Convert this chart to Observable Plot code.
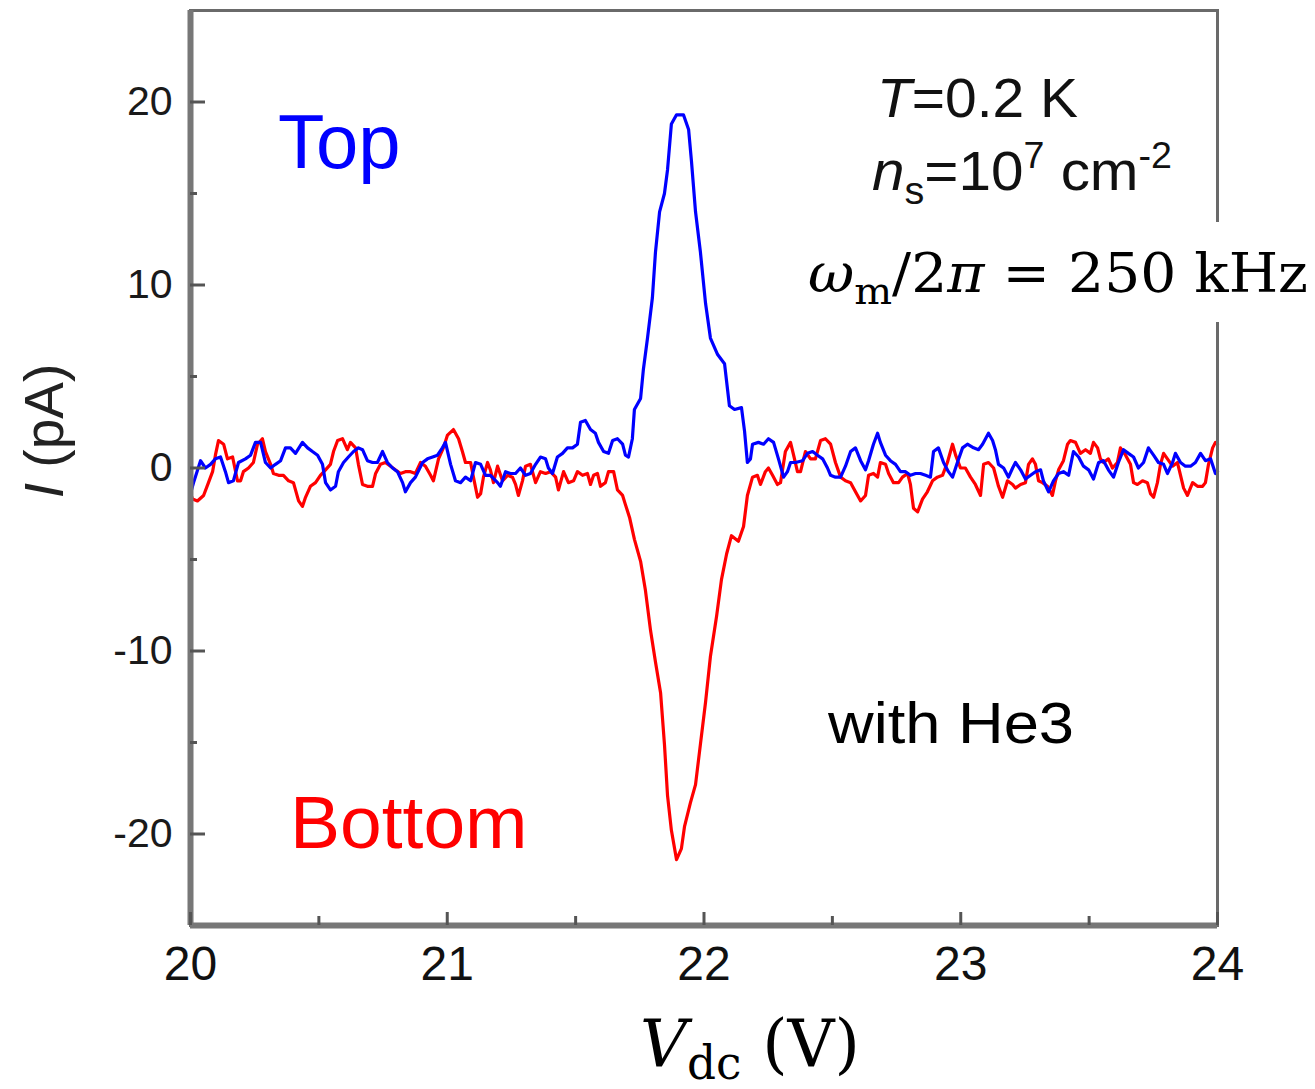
<!DOCTYPE html>
<html>
<head>
<meta charset="utf-8">
<script src="https://cdn.jsdelivr.net/npm/d3@7"></script>
<script src="https://cdn.jsdelivr.net/npm/@observablehq/plot@0.6"></script>
<style>
  html, body { margin: 0; padding: 0; background: #fff; }
  #chart { width: 1315px; height: 1089px; }
</style>
</head>
<body>
<div id="chart"></div>
<script>
// Top (blue) trace: Vdc (V) and I (pA)
const vTop = [20.000,20.012,20.039,20.058,20.078,20.097,20.117,20.136,20.148,20.167,20.187,20.214,20.234,20.253,20.273,20.292,20.312,20.331,20.351,20.370,20.389,20.409,20.436,20.456,20.475,20.495,20.514,20.526,20.545,20.565,20.576,20.596,20.615,20.635,20.654,20.670,20.689,20.709,20.728,20.748,20.767,20.787,20.806,20.826,20.837,20.857,20.876,20.904,20.923,20.943,20.962,20.981,20.993,21.013,21.032,21.052,21.071,21.091,21.110,21.130,21.149,21.168,21.196,21.207,21.227,21.246,21.266,21.285,21.305,21.324,21.344,21.363,21.383,21.394,21.410,21.429,21.449,21.468,21.488,21.507,21.519,21.538,21.558,21.577,21.589,21.609,21.628,21.644,21.663,21.683,21.694,21.706,21.721,21.729,21.753,21.764,21.780,21.799,21.811,21.827,21.846,21.858,21.873,21.893,21.920,21.940,21.951,21.967,21.986,22.006,22.025,22.053,22.080,22.099,22.119,22.146,22.158,22.169,22.181,22.189,22.212,22.232,22.251,22.271,22.290,22.310,22.325,22.337,22.356,22.384,22.403,22.423,22.442,22.462,22.481,22.493,22.512,22.532,22.551,22.571,22.590,22.610,22.629,22.641,22.660,22.676,22.687,22.707,22.726,22.746,22.765,22.785,22.804,22.824,22.843,22.863,22.882,22.894,22.913,22.933,22.952,22.968,22.987,23.007,23.026,23.050,23.069,23.085,23.108,23.124,23.135,23.147,23.167,23.186,23.202,23.213,23.233,23.252,23.272,23.291,23.311,23.322,23.342,23.361,23.381,23.400,23.420,23.439,23.459,23.478,23.498,23.517,23.537,23.556,23.575,23.595,23.614,23.634,23.653,23.673,23.692,23.712,23.731,23.751,23.770,23.790,23.805,23.825,23.836,23.856,23.875,23.895,23.914,23.934,23.953,23.973,23.992,24.000];
const iTop = [-1.4,-0.8,0.4,0.0,0.2,0.5,0.6,-0.2,-0.8,-0.7,0.3,0.5,0.7,1.4,1.4,0.3,0.0,0.2,0.4,1.1,1.1,0.8,1.4,1.1,0.9,0.7,0.2,-0.8,-1.2,-1.0,-0.2,0.3,0.6,0.9,1.1,1.0,0.4,0.3,0.3,0.9,0.3,0.0,-0.2,-0.8,-1.3,-0.8,-0.5,0.3,0.5,0.6,0.7,1.1,1.4,0.2,-0.7,-0.8,-0.5,-0.7,0.3,0.2,-0.4,-0.4,-0.8,-1.0,-0.2,-0.3,-0.3,0.0,-0.4,-0.3,0.2,0.6,0.5,0.0,-0.3,0.6,0.8,1.1,1.1,1.3,2.5,2.6,2.1,1.9,1.4,0.9,0.8,1.5,1.6,1.3,0.7,0.6,1.6,3.2,3.8,5.4,7.1,9.3,11.8,14.0,15.0,16.3,18.8,19.3,19.3,18.5,16.8,14.0,11.8,9.0,7.1,6.2,5.7,3.4,3.2,3.3,2.0,0.3,0.5,1.3,1.4,1.3,1.6,1.4,0.5,-0.5,-0.2,0.3,0.3,0.4,0.8,0.9,0.7,0.5,0.0,-0.4,-0.5,-0.5,0.1,0.9,1.1,0.4,-0.1,0.4,1.3,1.9,1.4,0.7,0.4,0.2,-0.2,-0.2,-0.4,-0.3,-0.3,-0.4,-0.5,0.9,1.1,0.3,-0.2,-0.5,0.3,1.1,1.3,1.1,1.0,1.3,1.9,1.5,1.0,0.2,0.0,-0.5,0.0,0.3,-0.1,-0.6,-0.4,-0.2,-0.1,-0.7,-1.3,-0.7,-0.3,-0.2,-0.4,0.9,0.6,0.1,-0.1,-0.6,0.3,0.4,-0.1,-0.5,0.3,1.0,0.8,0.6,0.0,0.3,1.1,0.7,0.3,0.2,-0.3,0.3,0.8,0.3,0.1,0.1,0.3,0.8,0.4,0.5,-0.3,-0.2];

// Bottom (red) trace
const vBottom = [20.000,20.008,20.027,20.051,20.070,20.086,20.097,20.109,20.129,20.144,20.164,20.183,20.195,20.206,20.226,20.245,20.261,20.280,20.292,20.312,20.323,20.343,20.362,20.382,20.401,20.421,20.436,20.448,20.467,20.487,20.506,20.526,20.545,20.557,20.573,20.592,20.611,20.623,20.643,20.654,20.670,20.689,20.709,20.721,20.740,20.759,20.779,20.798,20.818,20.837,20.857,20.876,20.896,20.915,20.935,20.946,20.966,20.985,21.001,21.024,21.044,21.059,21.071,21.091,21.102,21.118,21.130,21.141,21.157,21.168,21.180,21.196,21.215,21.235,21.254,21.266,21.277,21.293,21.305,21.324,21.344,21.363,21.383,21.402,21.422,21.433,21.453,21.472,21.492,21.507,21.527,21.546,21.558,21.570,21.585,21.597,21.616,21.628,21.648,21.663,21.683,21.694,21.710,21.729,21.753,21.772,21.792,21.811,21.831,21.846,21.858,21.873,21.893,21.912,21.924,21.947,21.967,21.986,22.006,22.025,22.049,22.068,22.088,22.107,22.134,22.154,22.169,22.189,22.208,22.220,22.239,22.251,22.267,22.286,22.298,22.317,22.337,22.349,22.364,22.376,22.395,22.415,22.434,22.454,22.473,22.493,22.512,22.532,22.551,22.571,22.590,22.610,22.629,22.641,22.660,22.676,22.687,22.707,22.719,22.738,22.758,22.773,22.793,22.804,22.816,22.832,22.851,22.870,22.890,22.909,22.929,22.948,22.968,22.980,22.999,23.018,23.038,23.057,23.077,23.089,23.108,23.128,23.147,23.163,23.182,23.202,23.213,23.233,23.252,23.264,23.279,23.291,23.303,23.318,23.338,23.357,23.369,23.381,23.400,23.416,23.427,23.447,23.466,23.486,23.505,23.517,23.533,23.544,23.556,23.575,23.591,23.610,23.622,23.642,23.661,23.673,23.688,23.708,23.727,23.739,23.751,23.766,23.778,23.790,23.805,23.825,23.844,23.856,23.868,23.883,23.903,23.922,23.942,23.953,23.965,23.981,23.992,24.000];
const iBottom = [-1.4,-1.7,-1.8,-1.5,-0.8,-0.2,0.7,1.5,1.3,0.5,0.6,-0.7,-0.7,-0.2,0.0,0.3,1.3,1.6,0.9,0.2,-0.3,-0.4,-0.4,-0.7,-0.8,-1.8,-2.1,-1.6,-1.0,-0.8,-0.4,-0.1,0.2,0.9,1.5,1.6,1.0,1.4,1.1,0.2,-0.9,-1.0,-1.0,-0.3,0.2,0.3,0.1,-0.1,-0.3,-0.2,-0.2,-0.3,0.3,0.1,-0.4,-0.7,0.5,1.1,1.8,2.1,1.6,0.9,0.3,0.3,-0.5,-1.6,-1.4,-0.5,0.3,-0.1,-0.8,0.1,-0.7,-0.4,-0.5,-0.9,-1.5,-0.7,0.1,0.2,-0.8,-0.2,-0.3,-0.2,-0.5,-1.2,-0.2,-0.8,-0.7,-0.2,-0.4,-0.3,-0.9,-0.4,-0.3,-1.0,-0.8,-0.2,-0.2,-1.2,-1.5,-2.0,-2.7,-3.9,-5.1,-6.7,-8.9,-10.6,-12.3,-15.1,-17.9,-19.8,-21.4,-20.8,-19.6,-18.3,-17.3,-15.1,-12.8,-10.3,-8.1,-6.1,-4.7,-3.7,-4.0,-3.2,-1.5,-0.5,-0.4,-0.9,-0.2,0.0,-0.4,-0.9,-0.8,0.9,1.4,0.7,-0.2,-0.2,0.9,0.5,0.5,1.5,1.6,1.3,0.3,-0.5,-0.7,-0.8,-1.3,-1.8,-1.5,-0.4,-0.3,-0.5,0.3,0.2,-0.3,-0.8,-0.8,-0.5,-0.3,-0.9,-2.2,-2.4,-1.7,-1.3,-0.7,-0.5,-0.4,0.3,1.3,0.7,0.0,0.0,-0.5,-0.9,-1.5,0.2,0.3,0.0,-1.0,-1.6,-0.7,-0.9,-1.1,-0.9,-0.8,0.2,0.5,0.2,-0.7,-0.8,-1.0,-1.5,-0.7,-0.1,0.4,1.3,1.5,1.4,0.8,1.0,0.8,1.4,1.1,0.5,0.3,0.5,0.0,0.3,1.1,0.7,0.2,-0.8,-0.9,-0.7,-0.8,-1.4,-1.6,-0.8,0.2,0.8,0.5,0.1,0.3,-0.4,-1.1,-1.5,-0.8,-1.0,-1.0,-0.8,0.2,1.1,1.4,1.3];

// Ticks
const xMajor = [20, 21, 22, 23, 24];
const xMinor = [20.5, 21.5, 22.5, 23.5];
const yMajor = [-20, -10, 0, 10, 20];
const yMinor = [-15, -5, 5, 15];

const topData = vTop.map((v, k) => ({v, i: iTop[k]}));
const bottomData = vBottom.map((v, k) => ({v, i: iBottom[k]}));

const sans = "'Liberation Sans', Arial, Helvetica, sans-serif";
const serif = "'DejaVu Serif', 'Liberation Serif', serif";

const chart = Plot.plot({
  width: 1315,
  height: 1089,
  marginLeft: 190,
  marginRight: 98,
  marginTop: 10,
  marginBottom: 164,
  x: {domain: [20, 24], label: null},
  y: {domain: [-25, 25], label: null},
  style: {fontFamily: sans, background: "white", color: "#222"},
  marks: [
    Plot.line(bottomData, {x: "v", y: "i", stroke: "#ff0000", strokeWidth: 3.2}),
    Plot.line(topData, {x: "v", y: "i", stroke: "#0000ff", strokeWidth: 3.2}),
    Plot.frame({stroke: "#6a6a6a", strokeWidth: 3}),
    Plot.ruleX([20], {stroke: "#777", strokeWidth: 6}),
    Plot.ruleY([-25], {stroke: "#777", strokeWidth: 6}),
    Plot.axisY(yMajor, {tickSize: -15, text: null, stroke: "#555", strokeWidth: 3}),
    Plot.axisY(yMinor, {tickSize: -7, text: null, stroke: "#555", strokeWidth: 3}),
    Plot.axisY(yMajor, {tickSize: 0, tickPadding: 18, fontSize: 41, fill: "#1a1a1a", tickFormat: d => String(d)}),
    Plot.axisX(xMajor, {tickSize: -13, text: null, stroke: "#555", strokeWidth: 3}),
    Plot.axisX(xMinor, {tickSize: -9, text: null, stroke: "#555", strokeWidth: 3}),
    Plot.axisX(xMajor, {tickSize: 0, tickPadding: 20, fontSize: 48, fill: "#111", tickFormat: d => String(d)})
  ]
});

document.getElementById("chart").appendChild(chart);

const svg = d3.select(chart);
const label = (x, y) => svg.append("text").attr("x", x).attr("y", y).attr("text-anchor", "start");

// Series labels
label(278, 168).attr("font-family", sans).attr("font-size", 76).attr("fill", "#0000ff").text("Top");
label(290, 848).attr("font-family", sans).attr("font-size", 75).attr("fill", "#ff0000").text("Bottom");

// Conditions
const t1 = label(877, 117).attr("font-family", sans).attr("font-size", 56).attr("fill", "#111")
  .attr("textLength", 201).attr("lengthAdjust", "spacingAndGlyphs");
t1.append("tspan").attr("font-style", "italic").text("T");
t1.append("tspan").text("=0.2 K");

const t2 = label(872, 190).attr("font-family", sans).attr("font-size", 56).attr("fill", "#111")
  .attr("textLength", 300).attr("lengthAdjust", "spacingAndGlyphs");
t2.append("tspan").attr("font-style", "italic").text("n");
t2.append("tspan").attr("font-size", 38).attr("dy", 14).text("s");
t2.append("tspan").attr("dy", -14).text("=10");
t2.append("tspan").attr("font-size", 36).attr("dy", -22).text("7");
t2.append("tspan").attr("dy", 22).text(" cm");
t2.append("tspan").attr("font-size", 36).attr("dy", -22).text("-2");

// White box behind the frequency annotation
svg.append("rect").attr("x", 800).attr("y", 222).attr("width", 515).attr("height", 100).attr("fill", "white");
const t3 = label(808, 292).attr("font-family", serif).attr("font-size", 54).attr("fill", "#000")
  .attr("textLength", 500).attr("lengthAdjust", "spacingAndGlyphs");
t3.append("tspan").attr("font-style", "italic").text("ω");
t3.append("tspan").attr("font-size", 38).attr("dy", 12).text("m");
t3.append("tspan").attr("dy", -12).text("/2");
t3.append("tspan").attr("font-style", "italic").text("π");
t3.append("tspan").text(" = 250 kHz");

label(828, 743).attr("font-family", sans).attr("font-size", 57).attr("fill", "#000")
  .attr("textLength", 246).attr("lengthAdjust", "spacingAndGlyphs").text("with He3");

// Y axis label
const yl = svg.append("text").attr("transform", "translate(63,431) rotate(-90)")
  .attr("text-anchor", "middle").attr("font-family", sans).attr("font-size", 55).attr("fill", "#222");
yl.append("tspan").attr("font-style", "italic").text("I");
yl.append("tspan").text(" (pA)");

// X axis label
const xl = label(640, 1066).attr("font-family", serif).attr("font-size", 66).attr("fill", "#000")
  .attr("textLength", 220).attr("lengthAdjust", "spacingAndGlyphs");
xl.append("tspan").attr("font-style", "italic").text("V");
xl.append("tspan").attr("font-size", 46).attr("dy", 13).text("dc");
xl.append("tspan").attr("dy", -13).text(" (V)");
</script>
</body>
</html>
